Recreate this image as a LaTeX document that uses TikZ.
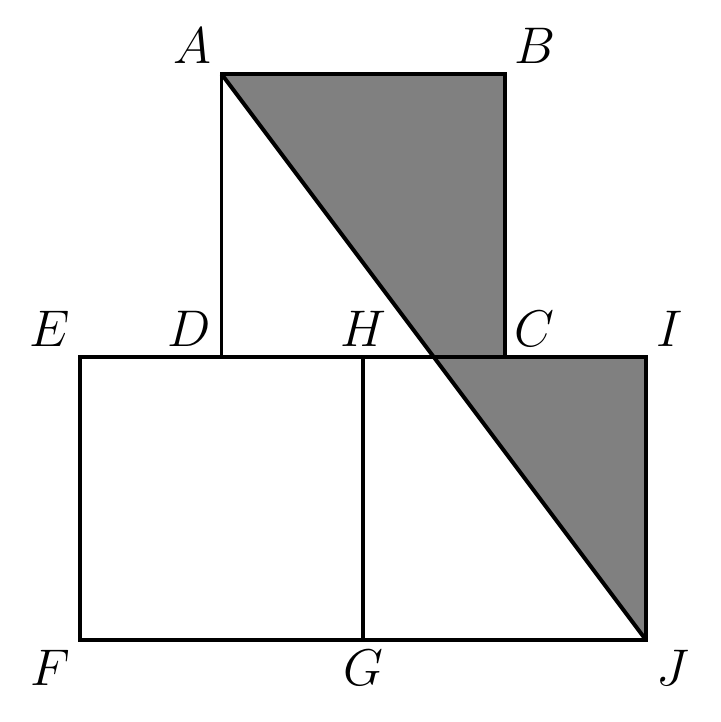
\documentclass[tikz,border=0pt]{standalone}
\begin{document}
\begin{tikzpicture}[scale=4,line width=1.6pt,font=\fontsize{22}{26}\selectfont]
            \useasboundingbox (-0.2827,-0.2897) rectangle (2.2648,2.2615);
            \coordinate (F) at (0,0);
            \coordinate (G) at (1,0);
            \coordinate (J) at (2,0);
            \coordinate (E) at (0,1);
            \coordinate (D) at (0.5,1);
            \coordinate (H) at (1,1);
            \coordinate (K) at (1.25,1);
            \coordinate (C) at (1.5,1);
            \coordinate (I) at (2,1);
            \coordinate (A) at (0.5,2);
            \coordinate (B) at (1.5,2);
            \fill[gray] (A)--(B)--(C)--(K)--cycle;
            \fill[gray] (K)--(I)--(J)--cycle;
            \draw (E)--(I)--(J)--(F)--cycle;
            \draw (H)--(G);
            \draw (D)--(A)--(B)--(C);
            \draw (A)--(J);
            \node[above left] (lA) at (A) {\(A\)};
            \node[above right] (lB) at (B) {\(B\)};
            \node[above right] (lC) at (C) {\(C\)};
            \node[above left] (lD) at (D) {\(D\)};
            \node[above left] (lE) at (E) {\(E\)};
            \node[above] (lH) at (H) {\(H\)};
            \node[above right] (lI) at (I) {\(I\)};
            \node[below left] (lF) at (F) {\(F\)};
            \node[below] (lG) at (G) {\(G\)};
            \node[below right] (lJ) at (J) {\(J\)};
\end{tikzpicture}
\end{document}
